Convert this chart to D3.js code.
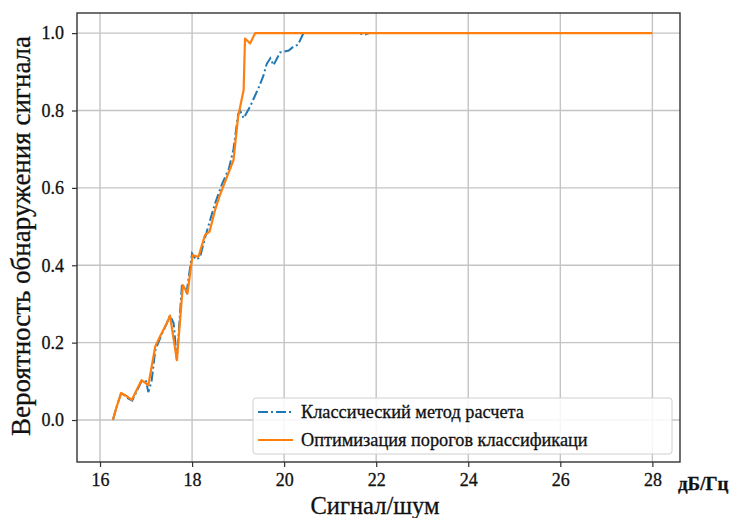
<!DOCTYPE html>
<html><head><meta charset="utf-8">
<script src="https://cdn.jsdelivr.net/npm/d3@7"></script>
<style>body{margin:0;background:#fff}svg{display:block}svg text{stroke:#111;stroke-width:0.3px}</style>
</head><body>
<script>
const classicX = [16.28,16.35,16.46,16.62,16.7,16.9,17.0,17.05,17.12,17.2,17.3,17.45,17.52,17.6,17.67,17.78,17.88,18.0,18.08,18.17,18.28,18.35,18.5,18.65,18.8,18.9,19.0,19.04,19.12,19.26,19.45,19.55,19.62,19.7,19.77,19.91,20.1,20.2,20.3,20.42,21.6,21.75,21.85,28];
const classicY = [0,0.03,0.07,0.055,0.05,0.10,0.10,0.072,0.10,0.18,0.21,0.25,0.27,0.25,0.155,0.35,0.33,0.43,0.415,0.42,0.47,0.50,0.56,0.61,0.65,0.70,0.79,0.80,0.78,0.81,0.86,0.89,0.92,0.935,0.917,0.95,0.955,0.965,0.97,1.0,1.0,0.996,1.0,1.0];
const optX = [16.28,16.35,16.46,16.6,16.69,16.9,17.05,17.2,17.3,17.45,17.52,17.67,17.8,17.9,18.01,18.14,18.28,18.38,18.5,18.6,18.9,19.0,19.12,19.15,19.26,19.37,28];
const optY = [0,0.03,0.07,0.06,0.052,0.103,0.09,0.19,0.215,0.25,0.27,0.155,0.349,0.327,0.426,0.422,0.478,0.487,0.543,0.58,0.672,0.784,0.853,0.986,0.973,1.0,1.0];
const xTicks = [16,18,20,22,24,26,28];
const yTicks = [0.0,0.2,0.4,0.6,0.8,1.0];
const seriesNames = ["Классический метод расчета","Оптимизация порогов классификаци"];
const xLabel = "Сигнал/шум", yLabel = "Вероятность обнаружения сигнала", unitLabel = "дБ/Гц";

const FONT = "'Liberation Serif', 'DejaVu Serif', serif";
const W=731,H=518, L=77,R=680,T=13,B=462;
const svg=d3.select("body").append("svg").attr("width",W).attr("height",H)
  .style("font-family",FONT);
const x=d3.scaleLinear().domain([15.5,28.6]).range([L,R]);
const y=d3.scaleLinear().domain([-0.1085,1.052]).range([B,T]);

// grid
svg.append("g").selectAll("line").data(xTicks).join("line")
 .attr("x1",d=>x(d)).attr("x2",d=>x(d)).attr("y1",T).attr("y2",B)
 .attr("stroke","#c4c4c4").attr("stroke-width",1.4);
svg.append("g").selectAll("line").data(yTicks).join("line")
 .attr("y1",d=>y(d)).attr("y2",d=>y(d)).attr("x1",L).attr("x2",R)
 .attr("stroke","#c4c4c4").attr("stroke-width",1.4);

// axes
const xa=svg.append("g").attr("transform",`translate(0,${B})`)
 .call(d3.axisBottom(x).tickValues(xTicks).tickFormat(d3.format("d")).tickSize(5).tickPadding(6));
const ya=svg.append("g").attr("transform",`translate(${L},0)`)
 .call(d3.axisLeft(y).tickValues(yTicks).tickFormat(d3.format(".1f")).tickSize(5).tickPadding(8));
[xa,ya].forEach(g=>{g.attr("font-family",null).attr("font-size",null);
 g.select(".domain").remove();g.selectAll("line").attr("stroke","#333").attr("stroke-width",1.2);
 g.selectAll("text").style("font-family",FONT).attr("font-size",18).attr("fill","#111");});

// lines
const line=d3.line().x(d=>x(d[0])).y(d=>y(d[1]));
const cls=classicX.map((v,i)=>[v,classicY[i]]);
const opt=optX.map((v,i)=>[v,optY[i]]);
svg.append("path").datum(cls).attr("d",line).attr("fill","none").attr("stroke","#1f77b4")
 .attr("stroke-width",2).attr("stroke-dasharray","10,3,2,3");
svg.append("path").datum(opt).attr("d",line).attr("fill","none").attr("stroke","#ff7f0e")
 .attr("stroke-width",2.2).attr("stroke-linejoin","round");

// frame
svg.append("rect").attr("x",L).attr("y",T).attr("width",R-L).attr("height",B-T)
 .attr("fill","none").attr("stroke","#333").attr("stroke-width",1.4);

// legend
const lg=svg.append("g");
lg.append("rect").attr("x",253).attr("y",398).attr("width",419).attr("height",56).attr("rx",3)
 .attr("fill","#fff").attr("fill-opacity",0.85).attr("stroke","#d0d0d0").attr("stroke-width",1);
const rows=[{c:"#1f77b4",d:"10,3,2,3",y:412},{c:"#ff7f0e",d:null,y:440}];
rows.forEach((r,i)=>{
 lg.append("line").attr("x1",258).attr("x2",293).attr("y1",r.y).attr("y2",r.y)
  .attr("stroke",r.c).attr("stroke-width",2).attr("stroke-dasharray",r.d);
 lg.append("text").attr("x",301).attr("y",r.y).attr("dy","0.35em").attr("font-size",18.3).attr("fill","#111").text(seriesNames[i]);
});

// labels
svg.append("text").attr("x",375).attr("y",514).attr("text-anchor","middle").attr("font-size",24.5).attr("fill","#111").text(xLabel);
svg.append("text").attr("transform",`translate(30,236) rotate(-90)`).attr("text-anchor","middle").attr("font-size",27).attr("fill","#111").text(yLabel);
svg.append("text").attr("x",678).attr("y",483).attr("dy","0.35em").attr("font-size",19).attr("font-weight","bold").attr("fill","#111").text(unitLabel);
</script>
</body></html>
